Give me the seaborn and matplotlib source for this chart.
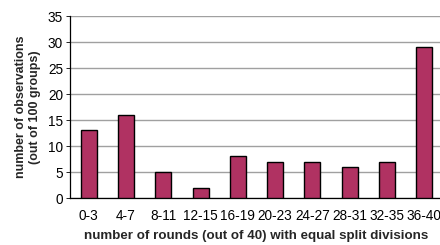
import matplotlib
matplotlib.use("Agg")
import matplotlib.pyplot as plt
import seaborn as sns
import pandas as pd
import numpy as np

categories = ["0-3", "4-7", "8-11", "12-15", "16-19", "20-23", "24-27", "28-31", "32-35", "36-40"]
observations = [13, 16, 5, 2, 8, 7, 7, 6, 7, 29]

sns.set_theme(style="white")
plt.rcParams['font.family'] = ['Liberation Sans', 'DejaVu Sans']

df = pd.DataFrame({"rounds": categories, "obs": observations})

fig = plt.figure(figsize=(4.4, 2.45), dpi=100)
ax = fig.add_axes([70/440, 47/245, 373/440, 182/245])

sns.barplot(data=df, x="rounds", y="obs", ax=ax, color="#B03262", width=0.43,
            edgecolor="black", linewidth=1.0, saturation=1, zorder=3)

ax.set_ylim(0, 35)
ax.set_xlim(-0.5, len(categories) - 0.5)
ax.set_yticks(range(0, 36, 5))
ax.yaxis.grid(True, color="#A0A0A0", linewidth=1.0, zorder=0)
ax.set_axisbelow(True)

for s in ["top", "right"]:
    ax.spines[s].set_visible(False)
ax.spines["left"].set_color("black")
ax.spines["bottom"].set_color("black")
ax.spines["left"].set_linewidth(0.9)
ax.spines["bottom"].set_linewidth(0.9)

ax.set_xticks(np.arange(len(categories)) - 0.5, minor=True)
ax.tick_params(axis="x", which="major", length=0, pad=8, labelsize=9.8, colors="black")
ax.tick_params(axis="x", which="minor", length=3, width=0.6, color="gray", direction="out")
ax.tick_params(axis="y", which="major", length=3, width=0.6, color="gray", left=True, labelsize=9.8, pad=2, colors="black")
ax.tick_params(axis="y", colors="black")

ax.set_xlabel("number of rounds (out of 40) with equal split divisions",
              fontsize=9.6, fontweight="bold", labelpad=5)
ax.set_ylabel("number of observations\n(out of 100 groups)",
              fontsize=9.0, fontweight="bold", labelpad=5)

fig.savefig("out.png", dpi=100)
